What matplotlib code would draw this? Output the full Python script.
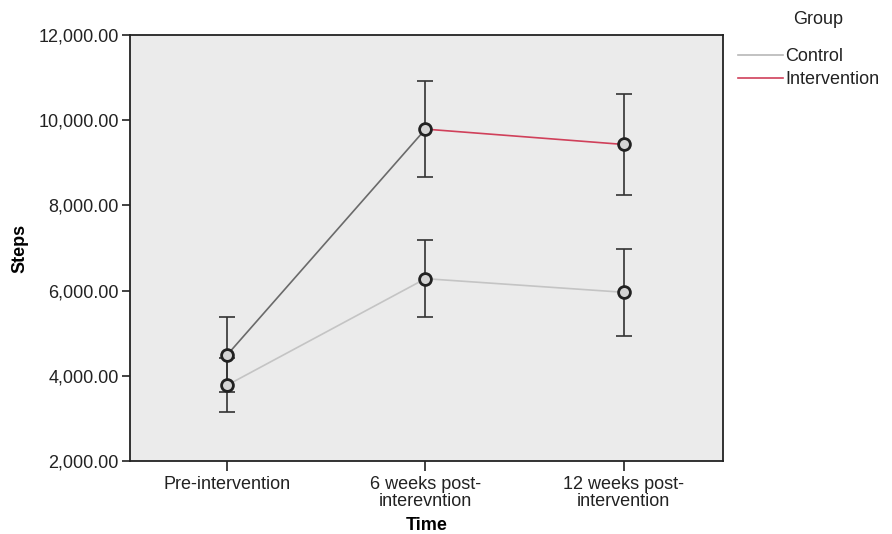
import numpy as np
import matplotlib.pyplot as plt
from matplotlib.lines import Line2D
from matplotlib.ticker import FuncFormatter

# mean steps and error bar half-widths per time point
time_labels = ['Pre-intervention', '6 weeks post-\ninterevntion', '12 weeks post-\nintervention']
control_mean = [3780, 6280, 5960]
control_err = [630, 910, 1025]
interv_mean = [4490, 9790, 9430]
interv_err = [880, 1130, 1190]

plt.rcParams['font.family'] = ['Liberation Sans', 'DejaVu Sans']
fs = 13

fig = plt.figure(figsize=(8.92, 5.34), dpi=100)
ax = fig.add_axes([0.1457, 0.1367, 0.6648, 0.7978])
ax.set_facecolor('#ebebeb')

x = np.arange(len(time_labels))

# lines between the group means
ax.plot(x, control_mean, color='#c4c4c4', lw=1.2, zorder=2)
ax.plot(x[:2], interv_mean[:2], color='#6a6a6a', lw=1.2, zorder=2)
ax.plot(x[1:], interv_mean[1:], color='#d0405a', lw=1.2, zorder=2)

# error bars and open circle markers
for m, e in [(control_mean, control_err), (interv_mean, interv_err)]:
    ax.errorbar(x, m, yerr=e, fmt='none', ecolor='#333333', elinewidth=1.2,
                capsize=6, capthick=1.2, zorder=3)
    ax.plot(x, m, 'o', ms=8.5, mfc='#d4d4d4', mec='#222222', mew=2.0, zorder=4)

ax.set_xlim(-0.49, 2.5)
ax.set_ylim(2000, 12000)
ax.set_yticks([2000, 4000, 6000, 8000, 10000, 12000])
ax.yaxis.set_major_formatter(FuncFormatter(lambda v, p: f'{v:,.2f}'))
ax.set_xticks(x)
ax.set_xticklabels(time_labels, fontsize=fs, linespacing=1.0)
ax.tick_params(axis='y', labelsize=fs, length=6, width=1.2, color='#222222', pad=2)
ax.tick_params(axis='x', length=7, width=1.2, color='#222222', pad=4)
for lbl in ax.get_yticklabels() + ax.get_xticklabels():
    lbl.set_color('#222222')

for s in ax.spines.values():
    s.set_color('#222222')
    s.set_linewidth(1.3)

ax.set_xlabel('Time', fontsize=fs, fontweight='bold', labelpad=5)
ax.set_ylabel('Steps', fontsize=fs, fontweight='bold', labelpad=7)

# legend for the two groups, outside the plot area
fig.text(818 / 892, 1 - 20 / 534, 'Group', fontsize=fs, ha='center', va='center',
         color='#222222')
handles = [Line2D([], [], color='#b8b8b8', lw=1.2),
           Line2D([], [], color='#d0405a', lw=1.2)]
leg = fig.legend(handles, ['Control', 'Intervention'],
                 loc='upper left', bbox_to_anchor=(0.827, 0.91), frameon=False,
                 fontsize=fs, handlelength=2.5, handletextpad=0.15,
                 labelspacing=0.35, borderpad=0, borderaxespad=0)
for t in leg.get_texts():
    t.set_color('#222222')

fig.savefig('out.png', dpi=100)
